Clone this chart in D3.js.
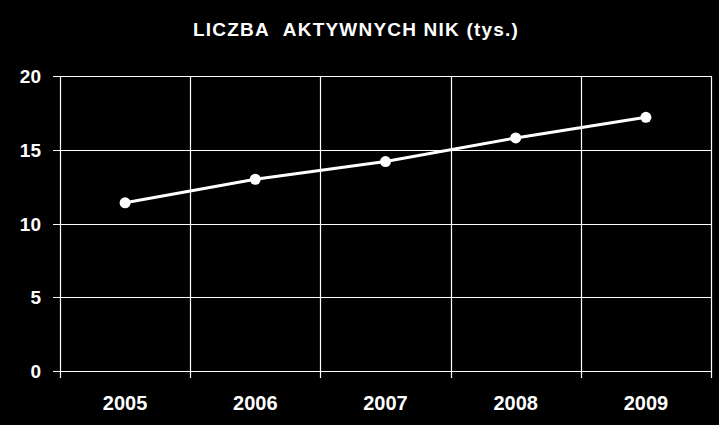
<!DOCTYPE html>
<html>
<head>
<meta charset="utf-8">
<script src="https://cdn.jsdelivr.net/npm/d3@7"></script>
<style>
  html, body { margin: 0; padding: 0; background: #000; }
  svg { display: block; }
</style>
</head>
<body>
<svg id="chart" width="719" height="425"></svg>
<script>
// chart data
const years = ['2005', '2006', '2007', '2008', '2009'];
const values = [11.4, 13.0, 14.2, 15.8, 17.2];
const yTicks = [0, 5, 10, 15, 20];
const title = 'LICZBA\u00a0\u00a0AKTYWNYCH NIK (tys.)';

const W = 719, H = 425;
const margin = { top: 76, right: 8, bottom: 54, left: 60 };
const svg = d3.select('#chart');
const font = '"Liberation Sans", Arial, sans-serif';

svg.append('rect').attr('width', W).attr('height', H).attr('fill', '#000');

const x = d3.scaleBand()
  .domain(years)
  .range([margin.left, W - margin.right]);

const y = d3.scaleLinear()
  .domain([0, 20])
  .range([H - margin.bottom, margin.top]);

/* ---------- grid ---------- */
svg.append('g')
  .selectAll('line')
  .data(yTicks)
  .join('line')
  .attr('x1', margin.left - 7).attr('x2', W - margin.right)
  .attr('y1', (d) => Math.round(y(d)) + 0.5)
  .attr('y2', (d) => Math.round(y(d)) + 0.5)
  .attr('stroke', '#fff')
  .attr('stroke-width', 1.2);

const bounds = years.map((d) => x(d)).concat([x.range()[1]]);
svg.append('g')
  .selectAll('line')
  .data(bounds)
  .join('line')
  .attr('x1', (d) => Math.round(d) + 0.5)
  .attr('x2', (d) => Math.round(d) + 0.5)
  .attr('y1', margin.top)
  .attr('y2', H - margin.bottom + 7)
  .attr('stroke', '#fff')
  .attr('stroke-width', 1.2);

/* ---------- axis labels ---------- */
svg.append('g')
  .selectAll('text')
  .data(yTicks)
  .join('text')
  .attr('x', 41)
  .attr('y', (d) => y(d) + 7)
  .attr('text-anchor', 'end')
  .attr('fill', '#fff')
  .attr('font-family', font)
  .attr('font-weight', 'bold')
  .attr('font-size', 19)
  .text((d) => d);

svg.append('g')
  .selectAll('text')
  .data(years)
  .join('text')
  .attr('x', (d) => x(d) + x.bandwidth() / 2)
  .attr('y', 410)
  .attr('text-anchor', 'middle')
  .attr('fill', '#fff')
  .attr('font-family', font)
  .attr('font-weight', 'bold')
  .attr('font-size', 20)
  .text((d) => d);

/* ---------- title ---------- */
svg.append('text')
  .attr('x', 356)
  .attr('y', 36)
  .attr('text-anchor', 'middle')
  .attr('fill', '#fff')
  .attr('font-family', font)
  .attr('font-weight', 'bold')
  .attr('font-size', 19)
  .attr('letter-spacing', 1.2)
  .text(title);

/* ---------- series ---------- */
const line = d3.line()
  .x((d, i) => x(years[i]) + x.bandwidth() / 2)
  .y((d) => y(d));

svg.append('path')
  .datum(values)
  .attr('d', line)
  .attr('fill', 'none')
  .attr('stroke', '#fff')
  .attr('stroke-width', 3);

svg.append('g')
  .selectAll('circle')
  .data(values)
  .join('circle')
  .attr('cx', (d, i) => x(years[i]) + x.bandwidth() / 2)
  .attr('cy', (d) => y(d))
  .attr('r', 5.5)
  .attr('fill', '#fff');
</script>
</body>
</html>
